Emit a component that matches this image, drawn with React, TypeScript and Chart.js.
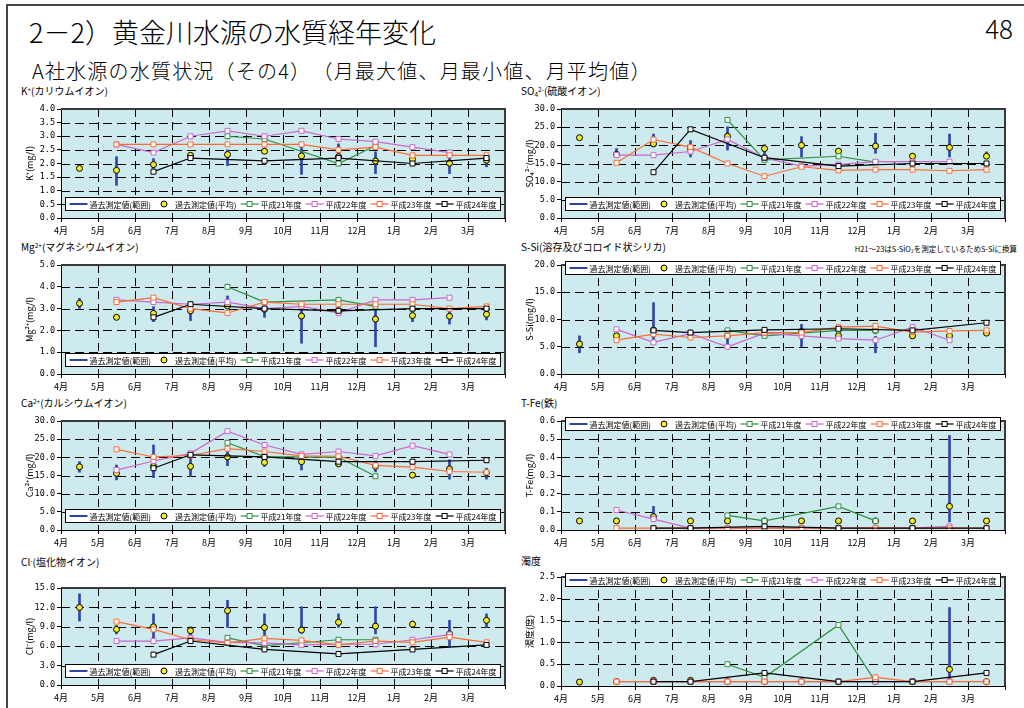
import React, { useEffect, useRef } from 'react';
import { Chart, registerables } from 'chart.js';

Chart.register(...registerables);
Chart.defaults.font.family = "'Noto Sans CJK JP', 'Noto Sans', sans-serif";
Chart.defaults.color = '#000';

const MONTHS = ['4月', '5月', '6月', '7月', '8月', '9月', '10月', '11月', '12月', '1月', '2月', '3月'];
const LEGEND_LABELS = ['過去測定値(範囲)', '過去測定値(平均)', '平成21年度', '平成22年度', '平成23年度', '平成24年度'];

// K+
const kMax = [null, 2.25, 2.18, 2.37, 2.5, 2.55, 2.62, 2.72, 2.43, 2.28, 2.25, 2.2];
const kMin = [null, 1.2, 1.82, 2.12, 1.92, 2.37, 1.6, 2.12, 1.63, 2.04, 1.63, 1.88];
const kAvg = [1.82, 1.75, 1.96, 2.3, 2.33, 2.45, 2.28, 2.25, 2.09, 2.15, 2.01, 2.12];
const kH21 = [null, null, null, null, 3.0, 2.9, null, 2.0, 2.65, null, null, null];
const kH22 = [null, 2.7, 2.4, 3.0, 3.2, 3.0, 3.2, 2.9, 2.8, 2.6, 2.4, null];
const kH23 = [null, 2.7, 2.7, 2.7, 2.7, 2.7, 2.7, 2.5, 2.6, 2.3, 2.3, 2.3];
const kH24 = [null, null, 1.7, 2.2, null, 2.1, null, 2.2, null, 2.0, null, 2.2];

// SO4 2-
const so4Max = [null, 19.1, 23.1, 21.3, 25.1, 20.2, 22.4, 19.0, 23.3, 17.6, 23.1, 18.2];
const so4Min = [null, 16.8, 19.6, 16.8, 18.7, 15.5, 16.8, 17.8, 17.8, 16.4, 16.8, 16.4];
const so4Avg = [22.1, 17.5, 20.4, 19.0, 22.5, 19.1, 20.0, 18.4, 19.8, 17.0, 19.4, 17.0];
const so4H21 = [null, null, null, null, 27.0, 16.0, null, 17.0, 15.4, null, null, null];
const so4H22 = [null, 17.3, 17.3, 18.3, 21.6, 16.5, 14.3, 14.7, 15.5, 15.5, 15.5, null];
const so4H23 = [null, 15.2, 21.6, 19.5, 15.0, 11.5, 14.1, 13.1, 13.3, 13.3, 13.0, 13.3];
const so4H24 = [null, null, 12.6, 24.4, null, 16.6, null, 14.3, null, 15.0, null, 15.0];

// Mg2+
const mgMax = [3.47, null, 3.09, 3.17, 3.58, 3.09, 3.01, 3.0, 3.01, 2.86, 2.86, 2.86];
const mgMin = [3.01, null, 2.4, 2.45, 3.01, 2.6, 1.41, 2.8, 1.25, 2.4, 2.29, 2.48];
const mgAvg = [3.24, 2.6, 2.78, 2.9, 3.12, 2.97, 2.66, 2.9, 2.52, 2.68, 2.65, 2.74];
const mgH21 = [null, null, null, null, 4.0, 3.3, null, 3.4, 3.1, null, null, null];
const mgH22 = [null, 3.4, 3.3, 3.2, 3.3, 3.0, 3.1, 2.8, 3.4, 3.4, 3.5, null];
const mgH23 = [null, 3.3, 3.5, 3.0, 2.8, 3.3, 3.2, 3.2, 3.2, 3.2, 3.0, 3.1];
const mgH24 = [null, null, 2.6, 3.2, null, 3.0, null, 2.9, null, 3.0, null, 3.0];

// S-Si
const siMax = [7.0, null, 13.1, null, 7.5, null, 9.1, null, 6.9, null, null, null];
const siMin = [3.9, null, 6.2, null, 5.0, null, 5.0, null, 3.9, null, null, null];
const siAvg = [5.5, 7.0, 8.0, 7.5, 7.0, 7.8, 7.8, 7.0, 8.0, 7.0, 7.0, 7.5];
const siH21 = [null, null, null, null, 8.0, 7.0, null, 8.0, 8.0, null, null, null];
const siH22 = [null, 8.2, 5.8, 7.4, 5.0, 7.5, 7.0, 6.5, 6.2, 8.6, 6.2, null];
const siH23 = [null, 6.2, 7.3, 6.7, 7.0, 7.6, 7.6, 8.6, 8.8, 7.7, 7.9, 8.0];
const siH24 = [null, null, 8.0, 7.6, null, 8.1, null, 8.3, null, 8.0, null, 9.4];

// Ca2+
const caMax = [18.8, 17.9, 23.4, 21.1, 21.6, 20.0, 19.7, 19.5, 19.0, null, 19.3, 17.0];
const caMin = [15.9, 13.8, 14.4, 14.7, 17.7, 17.5, 16.5, 17.5, 16.0, null, 14.0, 14.0];
const caAvg = [17.4, 15.6, 17.5, 17.5, 20.1, 18.6, 18.8, 18.2, 17.5, 15.1, 16.8, 15.8];
const caH21 = [null, null, null, null, 24.0, 20.2, null, 20.0, 14.8, null, null, null];
const caH22 = [null, 16.5, 19.0, 21.1, 27.2, 23.4, 20.8, 21.6, 20.4, 23.2, 20.8, null];
const caH23 = [null, 22.2, 20.1, 20.5, 22.4, 21.6, 20.4, 20.3, 17.8, 17.3, 16.1, 15.9];
const caH24 = [null, null, 17.0, 20.7, null, 20.1, null, 18.8, null, 18.8, null, 19.2];

// T-Fe
const feMax = [null, null, 0.13, null, null, null, null, null, null, null, 0.52, null];
const feMin = [null, null, 0.08, null, null, null, null, null, null, null, 0.045, null];
const feAvg = [0.05, 0.05, 0.073, 0.05, 0.05, 0.05, 0.05, 0.05, 0.05, 0.05, 0.13, 0.05];
const feH21 = [null, null, null, null, 0.08, 0.05, null, 0.13, 0.05, null, null, null];
const feH22 = [null, 0.11, 0.06, 0.01, 0.01, 0.01, 0.01, 0.01, 0.01, 0.01, 0.02, null];
const feH23 = [null, 0.01, 0.01, 0.01, 0.01, 0.01, 0.01, 0.01, 0.01, 0.01, 0.01, 0.01];
const feH24 = [null, null, 0.01, 0.01, null, 0.02, null, 0.01, null, 0.01, null, 0.01];

// Cl-
const clMax = [14.1, 9.2, 11.0, 9.0, 13.1, 11.0, 12.1, 11.0, 12.1, 9.9, 10.0, 11.0];
const clMin = [9.9, 7.9, 7.3, 7.7, 8.9, 7.5, 8.0, 8.9, 7.9, 9.0, 5.9, 8.9];
const clAvg = [12.0, 8.6, 9.0, 8.4, 11.5, 8.9, 8.5, 9.7, 9.1, 9.4, 7.9, 10.0];
const clH21 = [null, null, null, null, 7.3, 6.1, null, 7.0, 7.0, null, null, null];
const clH22 = [null, 6.8, 6.8, 7.3, 6.6, 6.5, 6.2, 6.3, 6.3, 7.0, 7.8, null];
const clH23 = [null, 9.8, 8.6, 7.0, 6.5, 7.2, 6.9, 6.2, 6.8, 6.6, 7.4, 6.6];
const clH24 = [null, null, 4.7, 6.8, null, 5.5, null, 4.8, null, 5.5, null, 6.2];

// 濁度
const tuMax = [null, null, null, null, null, null, null, null, null, null, 1.8, null];
const tuMin = [null, null, null, null, null, null, null, null, null, null, 0.1, null];
const tuAvg = [0.09, 0.1, 0.13, 0.13, 0.1, 0.1, 0.1, 0.1, 0.1, 0.1, 0.38, 0.1];
const tuH21 = [null, null, null, null, 0.5, 0.2, null, 1.4, 0.1, null, null, null];
const tuH22 = [null, 0.1, 0.1, 0.1, 0.1, 0.1, 0.1, 0.1, 0.1, 0.1, 0.1, null];
const tuH23 = [null, 0.1, 0.1, 0.1, 0.1, 0.1, 0.1, 0.1, 0.2, 0.1, 0.1, 0.1];
const tuH24 = [null, null, 0.1, 0.1, null, 0.3, null, 0.1, null, 0.1, null, 0.3];

const C_RANGE = '#3045A8';
const C_AVG = '#F0EC2A';
const C_H21 = '#2E9040';
const C_H22 = '#CC66CC';
const C_H23 = '#FF6A33';
const C_H24 = '#000000';
const PLOT_BG = '#CDEBEF';

type Arr = (number | null)[];
type Panel = {
  id: string; col: number; plotTop: number; plotBottom: number;
  yMax: number; yStep: number; yTitle: string; legendTop: boolean;
  max: Arr; min: Arr; avg: Arr; h21: Arr; h22: Arr; h23: Arr; h24: Arr;
};

const PANELS: Panel[] = [
  { id: 'k', col: 0, plotTop: 109, plotBottom: 218, yMax: 4, yStep: 0.5, yTitle: 'K⁺(mg/l)', legendTop: false, max: kMax, min: kMin, avg: kAvg, h21: kH21, h22: kH22, h23: kH23, h24: kH24 },
  { id: 'so4', col: 1, plotTop: 109, plotBottom: 218, yMax: 30, yStep: 5, yTitle: 'SO₄²⁻(mg/l)', legendTop: false, max: so4Max, min: so4Min, avg: so4Avg, h21: so4H21, h22: so4H22, h23: so4H23, h24: so4H24 },
  { id: 'mg', col: 0, plotTop: 265, plotBottom: 374, yMax: 5, yStep: 1, yTitle: 'Mg²⁺(mg/l)', legendTop: false, max: mgMax, min: mgMin, avg: mgAvg, h21: mgH21, h22: mgH22, h23: mgH23, h24: mgH24 },
  { id: 'si', col: 1, plotTop: 265, plotBottom: 374, yMax: 20, yStep: 5, yTitle: 'S-Si(mg/l)', legendTop: true, max: siMax, min: siMin, avg: siAvg, h21: siH21, h22: siH22, h23: siH23, h24: siH24 },
  { id: 'ca', col: 0, plotTop: 421, plotBottom: 530, yMax: 30, yStep: 5, yTitle: 'Ca²⁺(mg/l)', legendTop: false, max: caMax, min: caMin, avg: caAvg, h21: caH21, h22: caH22, h23: caH23, h24: caH24 },
  { id: 'fe', col: 1, plotTop: 421, plotBottom: 530, yMax: 0.6, yStep: 0.1, yTitle: 'T-Fe(mg/l)', legendTop: true, max: feMax, min: feMin, avg: feAvg, h21: feH21, h22: feH22, h23: feH23, h24: feH24 },
  { id: 'cl', col: 0, plotTop: 588, plotBottom: 685, yMax: 15, yStep: 3, yTitle: 'Cl⁻(mg/l)', legendTop: false, max: clMax, min: clMin, avg: clAvg, h21: clH21, h22: clH22, h23: clH23, h24: clH24 },
  { id: 'tu', col: 1, plotTop: 577, plotBottom: 686, yMax: 2.5, yStep: 0.5, yTitle: '濁度(度)', legendTop: true, max: tuMax, min: tuMin, avg: tuAvg, h21: tuH21, h22: tuH22, h23: tuH23, h24: tuH24 },
];

const COL_X = [18, 518];
const PLOT_L = [61, 561];
const PLOT_R = [505, 1005];

function pts(arr: Arr) {
  const out: { x: number; y: number }[] = [];
  arr.forEach((v, i) => { if (v != null) out.push({ x: i + 0.5, y: v }); });
  return out;
}
function rangePts(max: Arr, min: Arr) {
  const out: { x: number; y: number[] }[] = [];
  max.forEach((v, i) => {
    const m = min[i];
    if (v != null && m != null) out.push({ x: i + 0.5, y: [m, v] });
  });
  return out;
}

function decoPlugin(p: Panel) {
  return {
    id: 'deco_' + p.id,
    beforeDraw(chart: any) {
      const { ctx, chartArea: a } = chart;
      ctx.save();
      ctx.fillStyle = PLOT_BG;
      ctx.fillRect(a.left, a.top, a.right - a.left, a.bottom - a.top);
      ctx.restore();
    },
    beforeDatasetsDraw(chart: any) {
      const { ctx, chartArea: a, scales } = chart;
      const x = scales.x, y = scales.y;
      ctx.save();
      ctx.strokeStyle = '#000';
      ctx.lineWidth = 1;
      ctx.setLineDash([9, 5]);
      y.ticks.forEach((t: any) => {
        if (t.value <= 1e-9 || t.value >= p.yMax - 1e-9) return;
        const py = Math.round(y.getPixelForValue(t.value)) + 0.5;
        ctx.beginPath(); ctx.moveTo(a.left, py); ctx.lineTo(a.right, py); ctx.stroke();
      });
      ctx.setLineDash([8, 5]);
      for (let m = 1; m < 12; m++) {
        const px = Math.round(x.getPixelForValue(m)) + 0.5;
        ctx.beginPath(); ctx.moveTo(px, a.top); ctx.lineTo(px, a.bottom); ctx.stroke();
      }
      ctx.restore();
    },
    afterDatasetsDraw(chart: any) {
      const { ctx, chartArea: a } = chart;
      ctx.save();
      ctx.strokeStyle = '#3a3a3a';
      ctx.lineWidth = 2;
      ctx.beginPath();
      ctx.moveTo(a.left, a.top);
      ctx.lineTo(a.right, a.top);
      ctx.lineTo(a.right, a.bottom);
      ctx.stroke();
      ctx.restore();
    },
    afterDraw(chart: any) {
      const { ctx, chartArea: a } = chart;
      const boxH = 13;
      const L = Math.round(a.left + 4) + 0.5;
      const R = Math.round(a.right - 5) + 0.5;
      const T = Math.round(p.legendTop ? a.top - 4 : a.bottom - 8 - boxH) + 0.5;
      ctx.save();
      ctx.setLineDash([]);
      ctx.fillStyle = '#fff';
      ctx.fillRect(L, T, R - L, boxH);
      ctx.strokeStyle = '#000';
      ctx.lineWidth = 1;
      ctx.strokeRect(L, T, R - L, boxH);
      ctx.font = "8px 'Noto Sans CJK JP', sans-serif";
      ctx.textBaseline = 'middle';
      const widths = LEGEND_LABELS.map((s) => ctx.measureText(s).width);
      const total = widths.reduce((s, w) => s + w + 20, 0);
      const gap = (R - L - 8 - total) / 5;
      const cy = T + boxH / 2;
      let cx = L + 4;
      const yearColors = [C_H21, C_H22, C_H23, C_H24];
      LEGEND_LABELS.forEach((label, i) => {
        if (i === 0) {
          ctx.strokeStyle = C_RANGE; ctx.lineWidth = 2;
          ctx.beginPath(); ctx.moveTo(cx, cy); ctx.lineTo(cx + 18, cy); ctx.stroke();
        } else if (i === 1) {
          ctx.fillStyle = C_AVG; ctx.strokeStyle = '#000'; ctx.lineWidth = 1;
          ctx.beginPath(); ctx.arc(cx + 9, cy, 3, 0, Math.PI * 2); ctx.fill(); ctx.stroke();
        } else {
          const col = yearColors[i - 2];
          ctx.strokeStyle = col; ctx.lineWidth = 1.2;
          ctx.beginPath(); ctx.moveTo(cx, cy); ctx.lineTo(cx + 18, cy); ctx.stroke();
          ctx.fillStyle = '#fff'; ctx.lineWidth = 1;
          ctx.fillRect(cx + 6.5, cy - 2.5, 5, 5);
          ctx.strokeRect(cx + 6.5, cy - 2.5, 5, 5);
        }
        ctx.fillStyle = '#000';
        ctx.textAlign = 'left';
        ctx.fillText(label, cx + 20, cy + 0.5);
        cx += 20 + widths[i] + gap;
      });
      ctx.restore();
    },
  };
}

function yearDs(label: string, arr: Arr, color: string, order: number) {
  return {
    type: 'line' as const,
    label,
    data: pts(arr),
    borderColor: color,
    borderWidth: 1.2,
    pointStyle: 'rect',
    pointRadius: 3.5,
    pointBorderWidth: 1,
    pointBorderColor: color,
    pointBackgroundColor: '#fff',
    fill: false,
    tension: 0,
    order,
  };
}

function ChartPanel({ p }: { p: Panel }) {
  const ref = useRef<HTMLCanvasElement | null>(null);
  const colX = COL_X[p.col];
  const plotL = PLOT_L[p.col];
  const plotR = PLOT_R[p.col];
  const top = p.plotTop - 10;
  const w = plotR + 8 - colX;
  const h = p.plotBottom + 20 - top;

  useEffect(() => {
    if (!ref.current) return;
    const chart = new Chart(ref.current, {
      type: 'line',
      data: {
        datasets: [
          {
            type: 'bar',
            label: LEGEND_LABELS[0],
            data: rangePts(p.max, p.min) as any,
            backgroundColor: C_RANGE,
            borderWidth: 0,
            barThickness: 2,
            grouped: false,
            order: 6,
          } as any,
          {
            type: 'line',
            label: LEGEND_LABELS[1],
            data: pts(p.avg),
            showLine: false,
            pointStyle: 'circle',
            pointRadius: 3,
            pointBorderWidth: 1,
            pointBorderColor: '#000',
            pointBackgroundColor: C_AVG,
            order: 5,
          } as any,
          yearDs(LEGEND_LABELS[2], p.h21, C_H21, 4),
          yearDs(LEGEND_LABELS[3], p.h22, C_H22, 3),
          yearDs(LEGEND_LABELS[4], p.h23, C_H23, 2),
          yearDs(LEGEND_LABELS[5], p.h24, C_H24, 1),
        ] as any,
      },
      options: {
        responsive: false,
        maintainAspectRatio: false,
        animation: false,
        events: [],
        layout: { padding: { top: 10, right: 8, left: 0, bottom: 0 } },
        plugins: { legend: { display: false }, tooltip: { enabled: false } },
        scales: {
          x: {
            type: 'linear',
            min: 0,
            max: 12,
            offset: false,
            afterFit: (s: any) => { s.height = 20; },
            ticks: {
              stepSize: 1,
              autoSkip: false,
              maxRotation: 0,
              padding: 3,
              color: '#000',
              font: { size: 9 },
              callback: (v: any) => MONTHS[Number(v)] ?? '',
            },
            grid: { drawOnChartArea: false, drawTicks: true, tickLength: 4, tickColor: '#000', offset: false },
            border: { display: true, color: '#000', width: 1 },
          },
          y: {
            type: 'linear',
            min: 0,
            max: p.yMax,
            afterFit: (s: any) => { s.width = plotL - colX; },
            ticks: {
              stepSize: p.yStep,
              padding: 2,
              color: '#000',
              font: { size: 8.5, family: "'DejaVu Sans Mono', monospace" },
              callback: (v: any) => Number(v).toFixed(1),
            },
            grid: { drawOnChartArea: false, drawTicks: true, tickLength: 4, tickColor: '#000' },
            border: { display: true, color: '#000', width: 1 },
            title: {
              display: true,
              text: p.yTitle,
              color: '#000',
              font: { size: 9 },
              padding: { top: 6, bottom: 0 },
            },
          },
        },
      } as any,
      plugins: [decoPlugin(p)],
    });
    return () => chart.destroy();
  }, []);

  return (
    <canvas
      ref={ref}
      width={w}
      height={h}
      style={{ position: 'absolute', left: colX, top, width: w, height: h }}
    />
  );
}

const FONT = "'Noto Sans CJK JP', 'Noto Sans', sans-serif";

function Label({ x, y, children, size = 10 }: { x: number; y: number; children: React.ReactNode; size?: number }) {
  return (
    <div style={{ position: 'absolute', left: x, top: y, fontSize: size, lineHeight: `${size}px`, fontFamily: FONT, whiteSpace: 'nowrap', color: '#000' }}>
      {children}
    </div>
  );
}

const sup: React.CSSProperties = { fontSize: '0.65em', verticalAlign: '0.5em', lineHeight: 0 };
const sub: React.CSSProperties = { fontSize: '0.65em', verticalAlign: '-0.25em', lineHeight: 0 };

export default function App() {
  return (
    <div style={{ position: 'absolute', left: 0, top: 0, width: 1024, height: 708, background: '#fff', overflow: 'hidden', fontFamily: FONT }}>
      <div style={{ position: 'absolute', left: 6, top: 4, width: 1030, height: 720, borderTop: '2px solid #444', borderLeft: '2px solid #444' }} />
      <div style={{ position: 'absolute', left: 29, top: 18, fontSize: 27, lineHeight: '27px', fontWeight: 300, whiteSpace: 'nowrap' }}>2－2）黄金川水源の水質経年変化</div>
      <div style={{ position: 'absolute', right: 11, top: 15, fontSize: 26, lineHeight: '26px', fontWeight: 300 }}>48</div>
      <div style={{ position: 'absolute', left: 32, top: 61, fontSize: 20, lineHeight: '20px', letterSpacing: '1.2px', fontWeight: 300, whiteSpace: 'nowrap' }}>A社水源の水質状況（その4）　（月最大値、月最小値、月平均値）</div>

      <Label x={21} y={86}>K<span style={sup}>+</span>(カリウムイオン)</Label>
      <Label x={521} y={86}>SO<span style={sub}>4</span><span style={sup}>2-</span>(硫酸イオン)</Label>
      <Label x={21} y={242}>Mg<span style={sup}>2+</span>(マグネシウムイオン)</Label>
      <Label x={521} y={242}>S-Si(溶存及びコロイド状シリカ)</Label>
      <div style={{ position: 'absolute', right: 7, top: 245, fontSize: 7.5, lineHeight: '7.5px', whiteSpace: 'nowrap' }}>
        H21～23はS-SiO<span style={sub}>2</span>を測定しているためS-Siに換算
      </div>
      <Label x={21} y={398}>Ca<span style={sup}>2+</span>(カルシウムイオン)</Label>
      <Label x={521} y={398}>T-Fe(鉄)</Label>
      <Label x={21} y={557}>Cl<span style={sup}>-</span>(塩化物イオン)</Label>
      <Label x={521} y={556}>濁度</Label>

      {PANELS.map((p) => (
        <ChartPanel key={p.id} p={p} />
      ))}
    </div>
  );
}
